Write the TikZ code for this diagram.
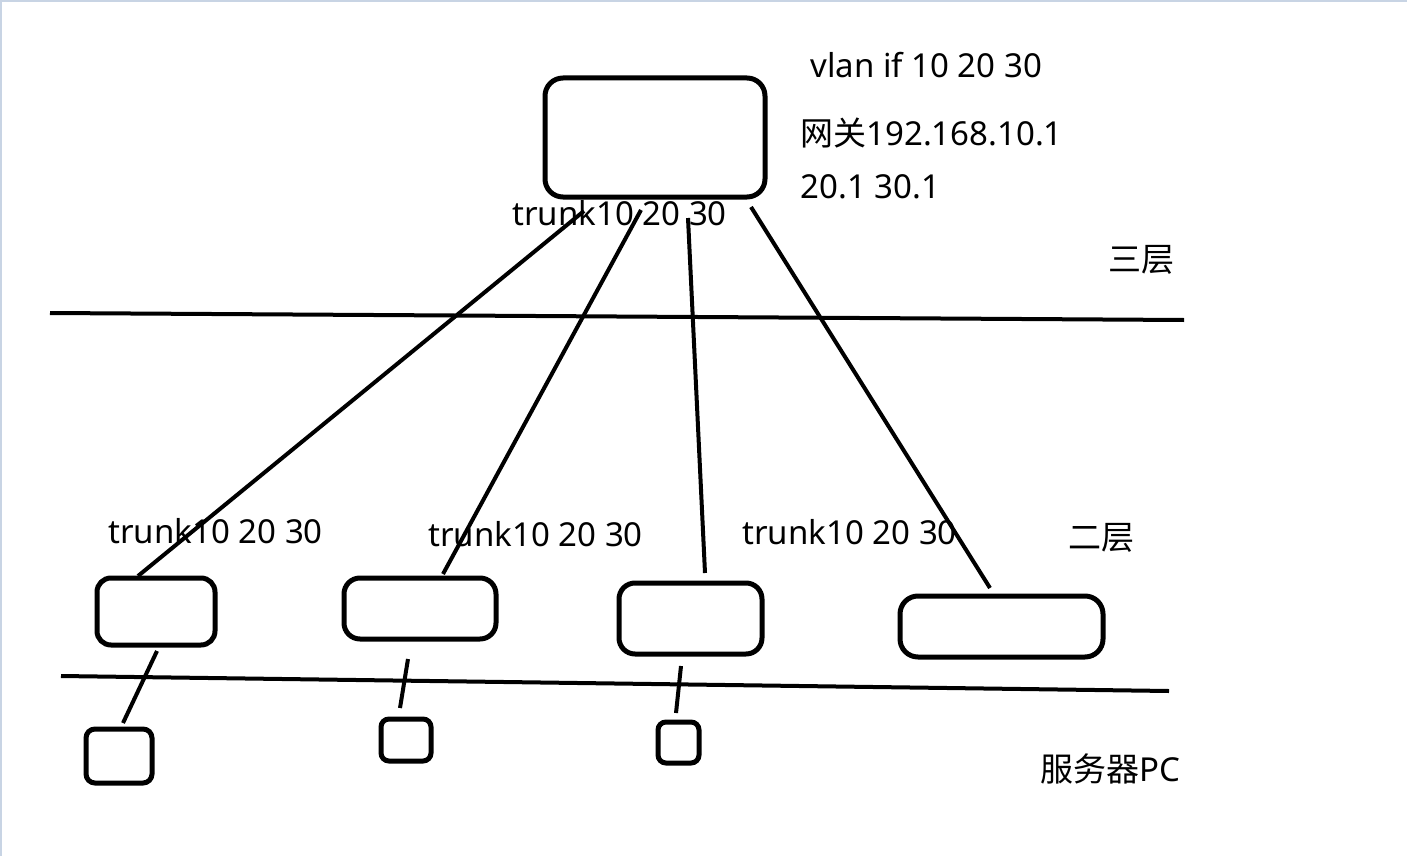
\documentclass[tikz,border=0pt]{standalone}
\usepackage{fontspec}
\setmainfont{Noto Sans}
\newfontfamily\cjk{Noto Sans CJK SC}
\definecolor{edgecol}{RGB}{200,212,228}
\begin{document}
\begin{tikzpicture}[x=0.5pt,y=-0.5pt,
  box/.style={draw=black, line width=2.5pt, rounded corners=#1, inner sep=0pt, outer sep=0pt},
  box/.default=7pt,
  wire/.style={draw=black, line width=2pt},
  lbl/.style={anchor=base west, inner sep=0pt, font=\fontsize{16.5}{20}\selectfont}
]
\useasboundingbox (0,0) rectangle (1407,856);
\fill[white] (0,0) rectangle (1407,856);
\fill[edgecol] (0,0) rectangle (1407,2);
\fill[edgecol] (0,0) rectangle (2,856);

% boxes
\node[box=9pt, minimum width=110pt, minimum height=59.5pt] (top) at (655,137.5) {};
\node[box=7pt, minimum width=59pt, minimum height=33.5pt] (s1) at (156,611.5) {};
\node[box=8pt, minimum width=76pt, minimum height=30.5pt] (s2) at (420,608.5) {};
\node[box=8pt, minimum width=71.5pt, minimum height=35.5pt] (s3) at (690.5,618.5) {};
\node[box=9pt, minimum width=101.5pt, minimum height=30.5pt] (s4) at (1001.5,626.5) {};
\node[box=4.5pt, minimum width=33pt, minimum height=27pt] (p1) at (119,756) {};
\node[box=4pt, minimum width=25pt, minimum height=21pt] (p2) at (406,740) {};
\node[box=4pt, minimum width=20.5pt, minimum height=20.5pt] (p3) at (678.5,742.5) {};

% connector end points
\coordinate (t1) at (584,211);
\coordinate (t2) at (641,210);
\coordinate (t3) at (688,218);
\coordinate (t4) at (751,207);
\coordinate (b1) at (138,576);
\coordinate (b2) at (443,574);
\coordinate (b3) at (705,573);
\coordinate (b4) at (990,588);
\coordinate (d1) at (157,651);
\coordinate (e1) at (123,723);
\coordinate (d2) at (408,659);
\coordinate (e2) at (400,708);
\coordinate (d3) at (681,666);
\coordinate (e3) at (676,713);

\draw[wire] (t1) -- (b1);
\draw[wire] (t2) -- (b2);
\draw[wire] (t3) -- (b3);
\draw[wire] (t4) -- (b4);
\draw[wire] (d1) -- (e1);
\draw[wire] (d2) -- (e2);
\draw[wire] (d3) -- (e3);

% layer lines
\coordinate (h1a) at (50,313);
\coordinate (h1b) at (1184,320);
\coordinate (h2a) at (61,676);
\coordinate (h2b) at (1169,691);
\draw[wire] (h1a) -- (h1b);
\draw[wire] (h2a) -- (h2b);

% labels
\node[lbl] (l1) at (810,78) {vlan if 10 20 30};
\node[lbl] (l2) at (800,145) {{\cjk 网关}192.168.10.1};
\node[lbl] (l3) at (800,198) {20.1 30.1};
\node[lbl] (l4) at (512,225) {trunk10 20 30};
\node[lbl] (l5) at (1108,271) {\cjk 三层};
\node[lbl] (l6) at (108,543) {trunk10 20 30};
\node[lbl] (l7) at (428,546) {trunk10 20 30};
\node[lbl] (l8) at (742,544) {trunk10 20 30};
\node[lbl] (l9) at (1068,549) {\cjk 二层};
\node[lbl] (l10) at (1040,781) {{\cjk 服务器}PC};
\end{tikzpicture}
\end{document}
